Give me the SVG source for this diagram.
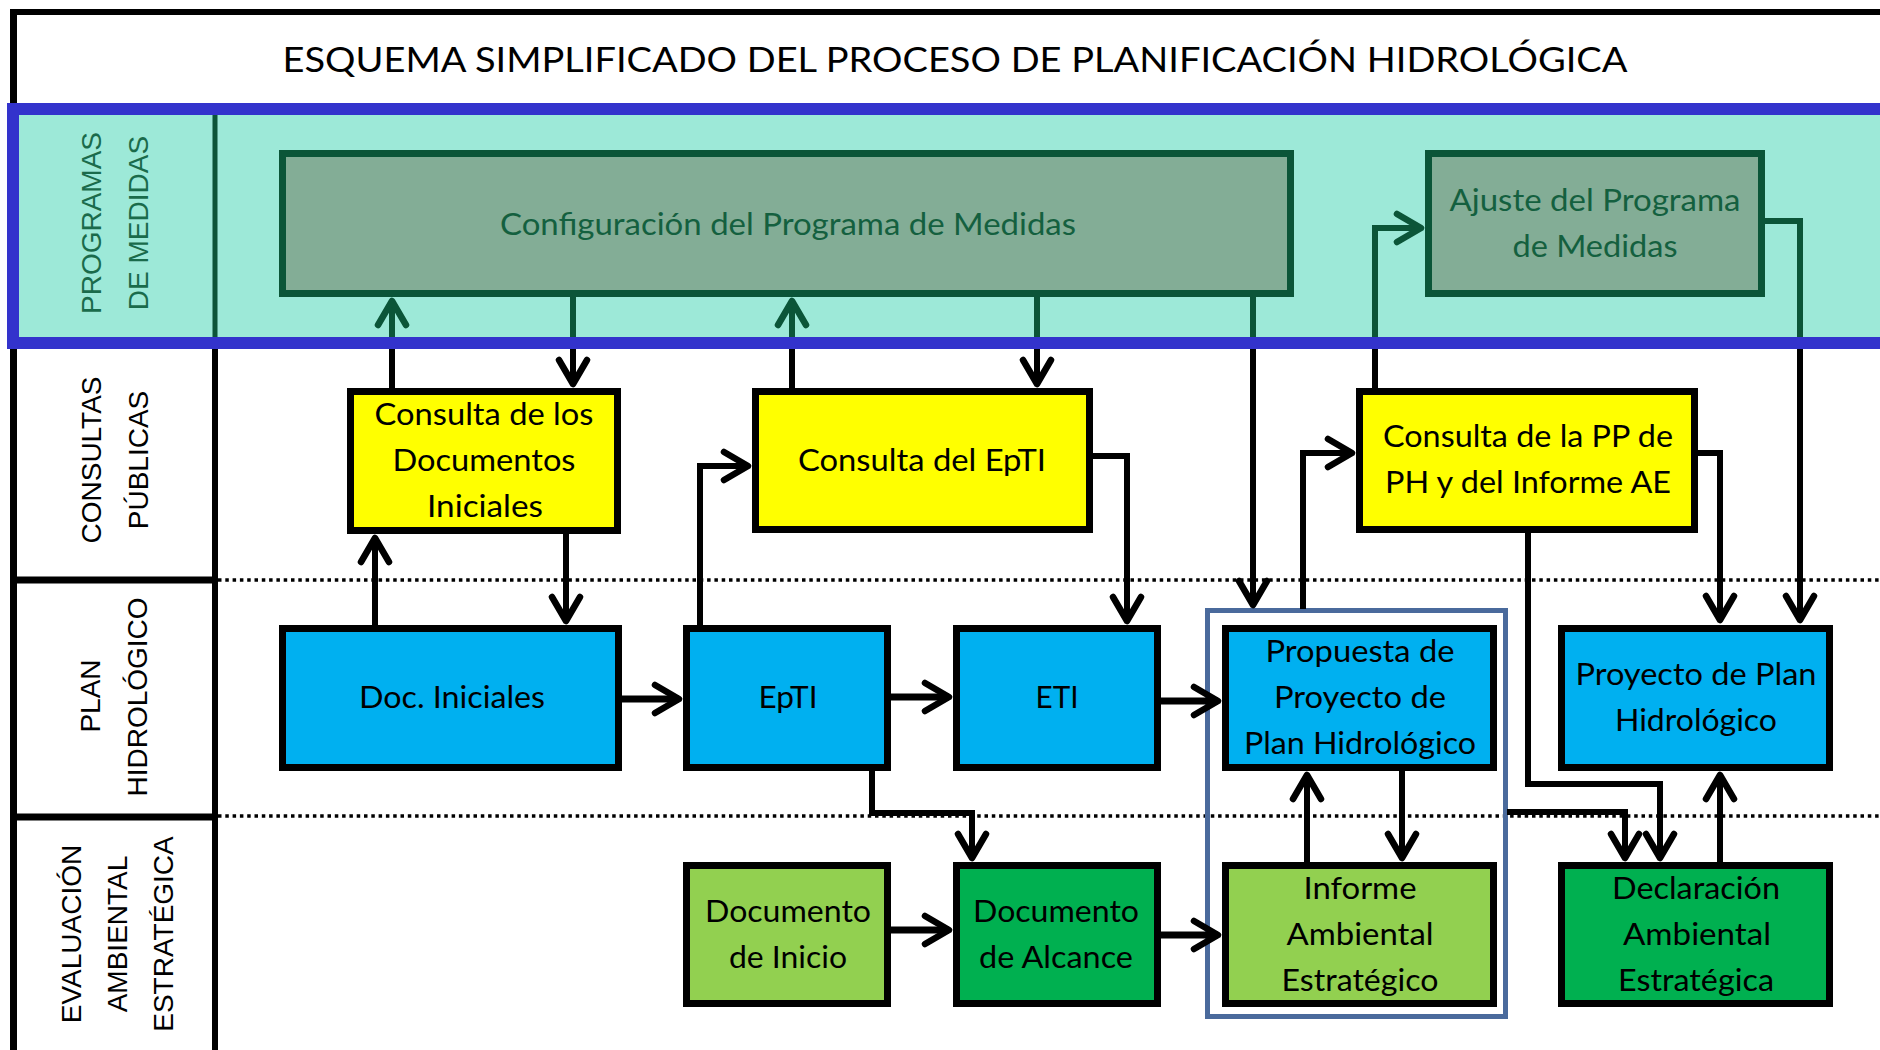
<svg xmlns="http://www.w3.org/2000/svg" width="1880" height="1050" viewBox="0 0 1880 1050">
<style>
.t{font-family:Lato,"Liberation Sans",sans-serif;font-size:30px;text-anchor:middle;fill:#000}
.tg{fill:#14603F}
.lane{font-family:"Liberation Sans",Arial,sans-serif;font-size:28px;text-anchor:middle;fill:#000}
.laneg{fill:#1A6B4B}
.box{stroke:#000;stroke-width:7}
.pm{fill:#83AD96;stroke:#0B5538;stroke-width:7}
.y{fill:#FFFF00}
.b{fill:#00B0F0}
.lg{fill:#92D050}
.dg{fill:#00B050}
.c{fill:none;stroke:#000;stroke-width:6;stroke-linejoin:miter}
.cg{fill:none;stroke:#0B5538;stroke-width:6;stroke-linejoin:miter}
.h{stroke-width:7}
.dot{fill:none;stroke:#000;stroke-width:3.5;stroke-dasharray:3.5 3.8}
</style>
<defs>
<marker id="ab" markerUnits="userSpaceOnUse" markerWidth="40" markerHeight="40" viewBox="-30 -20 40 40" refX="0" refY="0" orient="auto" overflow="visible">
<path d="M-24,-14 L0,0 L-24,14" fill="none" stroke="#000" stroke-width="6.5" stroke-linecap="round" stroke-linejoin="round"/>
</marker>
<marker id="ag" markerUnits="userSpaceOnUse" markerWidth="40" markerHeight="40" viewBox="-30 -20 40 40" refX="0" refY="0" orient="auto" overflow="visible">
<path d="M-24,-14 L0,0 L-24,14" fill="none" stroke="#0B5538" stroke-width="6.5" stroke-linecap="round" stroke-linejoin="round"/>
</marker>
</defs>
<rect x="0" y="0" width="1880" height="1050" fill="#fff"/>
<!-- frame -->
<g id="frame">
<path d="M10,12 H1880" stroke="#000" stroke-width="6" fill="none"/>
<path d="M13.5,9 V1050" stroke="#000" stroke-width="7" fill="none"/>
<rect x="13" y="109" width="1880" height="234" fill="#9DE9D8"/>
<path d="M215,115 V337" stroke="#0B5538" stroke-width="5" fill="none"/>
<path d="M215,349 V1050" stroke="#000" stroke-width="6" fill="none"/>
<path d="M13,580 H218 M13,817 H218" stroke="#000" stroke-width="7" fill="none"/>
<path class="dot" d="M218,580 H1880 M218,816 H1880"/>
</g>
<text class="t" x="955" y="72" style="font-size:35px" textLength="1345" lengthAdjust="spacingAndGlyphs">ESQUEMA SIMPLIFICADO DEL PROCESO DE PLANIFICACIÓN HIDROLÓGICA</text>
<!-- lane labels -->
<g id="lane-programas">
<text class="lane laneg" transform="translate(101,223) rotate(-90)">PROGRAMAS</text>
<text class="lane laneg" transform="translate(148,223) rotate(-90)">DE MEDIDAS</text>
</g>
<g id="lane-consultas">
<text class="lane" transform="translate(101,460) rotate(-90)">CONSULTAS</text>
<text class="lane" transform="translate(148,460) rotate(-90)">PÚBLICAS</text>
</g>
<g id="lane-plan">
<text class="lane" transform="translate(100,696) rotate(-90)">PLAN</text>
<text class="lane" transform="translate(147,697) rotate(-90)">HIDROLÓGICO</text>
</g>
<g id="lane-eae">
<text class="lane" transform="translate(81,934) rotate(-90)">EVALUACIÓN</text>
<text class="lane" transform="translate(127,934) rotate(-90)">AMBIENTAL</text>
<text class="lane" transform="translate(173,934) rotate(-90)">ESTRATÉGICA</text>
</g>
<g id="grupo-propuesta">
<rect x="1207.5" y="610.5" width="298" height="406" fill="none" stroke="#4A6A9C" stroke-width="5"/>
</g>
<!-- connectors -->
<g id="connectors">
<path class="c" d="M392,388 V343"/>
<path class="cg" d="M392,343 V301" marker-end="url(#ag)"/>
<path class="cg" d="M573,297 V343"/>
<path class="c" d="M573,343 V384" marker-end="url(#ab)"/>
<path class="c" d="M792,388 V343"/>
<path class="cg" d="M792,343 V301" marker-end="url(#ag)"/>
<path class="cg" d="M1037,297 V343"/>
<path class="c" d="M1037,343 V384" marker-end="url(#ab)"/>
<path class="cg" d="M1253,297 V343"/>
<path class="c" d="M1253,343 V605" marker-end="url(#ab)"/>
<path class="c" d="M1303,609 V453 H1352" marker-end="url(#ab)"/>
<path class="c" d="M1375,388 V343"/>
<path class="cg" d="M1375,343 V228 H1421" marker-end="url(#ag)"/>
<path class="cg" d="M1765,221 H1800 V343"/>
<path class="c" d="M1800,343 V620" marker-end="url(#ab)"/>
<path class="c" d="M1698,453 H1720 V620" marker-end="url(#ab)"/>
<path class="c" d="M1528,533 V784 H1660 V858" marker-end="url(#ab)"/>
<path class="c" d="M1507,812 H1625 V858" marker-end="url(#ab)"/>
<path class="c" d="M1720,862 V775" marker-end="url(#ab)"/>
<path class="c" d="M1307,862 V775" marker-end="url(#ab)"/>
<path class="c" d="M1402,771 V858" marker-end="url(#ab)"/>
<path class="c" d="M375,625 V538" marker-end="url(#ab)"/>
<path class="c" d="M566,534 V621" marker-end="url(#ab)"/>
<path class="c" d="M700,625 V466 H748" marker-end="url(#ab)"/>
<path class="c" d="M1093,456 H1127 V621" marker-end="url(#ab)"/>
<path class="c h" d="M622,699 H679" marker-end="url(#ab)"/>
<path class="c h" d="M891,697 H949" marker-end="url(#ab)"/>
<path class="c h" d="M1161,701 H1218" marker-end="url(#ab)"/>
<path class="c" d="M872,771 V813 H972 V858" marker-end="url(#ab)"/>
<path class="c h" d="M891,930 H949" marker-end="url(#ab)"/>
<path class="c h" d="M1161,935 H1218" marker-end="url(#ab)"/>
</g>
<!-- nodes -->
<g id="configuracion">
<rect class="pm" x="282.5" y="153.5" width="1008" height="140"/>
<text class="t tg" x="788" y="235" textLength="576" lengthAdjust="spacingAndGlyphs">Configuración del Programa de Medidas</text>
</g>
<g id="ajuste">
<rect class="pm" x="1428.5" y="153.5" width="333" height="140"/>
<text class="t tg" x="1595" y="211" textLength="291" lengthAdjust="spacingAndGlyphs">Ajuste del Programa</text>
<text class="t tg" x="1595" y="257" textLength="165" lengthAdjust="spacingAndGlyphs">de Medidas</text>
</g>
<g id="consulta-docs">
<rect class="box y" x="350.5" y="391.5" width="267" height="139"/>
<text class="t" x="484" y="425" textLength="219" lengthAdjust="spacingAndGlyphs">Consulta de los</text>
<text class="t" x="484" y="471" textLength="183" lengthAdjust="spacingAndGlyphs">Documentos</text>
<text class="t" x="485" y="517" textLength="116" lengthAdjust="spacingAndGlyphs">Iniciales</text>
</g>
<g id="consulta-epti">
<rect class="box y" x="755.5" y="391.5" width="334" height="138"/>
<text class="t" x="922" y="471" textLength="248" lengthAdjust="spacingAndGlyphs">Consulta del EpTI</text>
</g>
<g id="consulta-pp">
<rect class="box y" x="1359.5" y="391.5" width="335" height="138"/>
<text class="t" x="1528" y="447" textLength="290" lengthAdjust="spacingAndGlyphs">Consulta de la PP de</text>
<text class="t" x="1528" y="493" textLength="286" lengthAdjust="spacingAndGlyphs">PH y del Informe AE</text>
</g>
<g id="doc-iniciales">
<rect class="box b" x="282.5" y="628.5" width="336" height="139"/>
<text class="t" x="452" y="708" textLength="186" lengthAdjust="spacingAndGlyphs">Doc. Iniciales</text>
</g>
<g id="epti">
<rect class="box b" x="686.5" y="628.5" width="201" height="139"/>
<text class="t" x="788" y="708" textLength="59" lengthAdjust="spacingAndGlyphs">EpTI</text>
</g>
<g id="eti">
<rect class="box b" x="956.5" y="628.5" width="201" height="139"/>
<text class="t" x="1057" y="708" textLength="43" lengthAdjust="spacingAndGlyphs">ETI</text>
</g>
<g id="propuesta">
<rect class="box b" x="1225.5" y="628.5" width="268" height="139"/>
<text class="t" x="1360" y="662" textLength="189" lengthAdjust="spacingAndGlyphs">Propuesta de</text>
<text class="t" x="1360" y="708" textLength="172" lengthAdjust="spacingAndGlyphs">Proyecto de</text>
<text class="t" x="1360" y="754" textLength="232" lengthAdjust="spacingAndGlyphs">Plan Hidrológico</text>
</g>
<g id="proyecto-plan">
<rect class="box b" x="1561.5" y="628.5" width="268" height="139"/>
<text class="t" x="1696" y="685" textLength="241" lengthAdjust="spacingAndGlyphs">Proyecto de Plan</text>
<text class="t" x="1696" y="731" textLength="162" lengthAdjust="spacingAndGlyphs">Hidrológico</text>
</g>
<g id="doc-inicio">
<rect class="box lg" x="686.5" y="865.5" width="201" height="138"/>
<text class="t" x="788" y="922" textLength="166" lengthAdjust="spacingAndGlyphs">Documento</text>
<text class="t" x="788" y="968" textLength="118" lengthAdjust="spacingAndGlyphs">de Inicio</text>
</g>
<g id="doc-alcance">
<rect class="box dg" x="956.5" y="865.5" width="201" height="138"/>
<text class="t" x="1056" y="922" textLength="166" lengthAdjust="spacingAndGlyphs">Documento</text>
<text class="t" x="1056" y="968" textLength="154" lengthAdjust="spacingAndGlyphs">de Alcance</text>
</g>
<g id="informe-ae">
<rect class="box lg" x="1225.5" y="865.5" width="268" height="138"/>
<text class="t" x="1360" y="899" textLength="113" lengthAdjust="spacingAndGlyphs">Informe</text>
<text class="t" x="1360" y="945" textLength="147" lengthAdjust="spacingAndGlyphs">Ambiental</text>
<text class="t" x="1360" y="991" textLength="157" lengthAdjust="spacingAndGlyphs">Estratégico</text>
</g>
<g id="declaracion-ae">
<rect class="box dg" x="1561.5" y="865.5" width="268" height="138"/>
<text class="t" x="1696" y="899" textLength="168" lengthAdjust="spacingAndGlyphs">Declaración</text>
<text class="t" x="1697" y="945" textLength="148" lengthAdjust="spacingAndGlyphs">Ambiental</text>
<text class="t" x="1696" y="991" textLength="156" lengthAdjust="spacingAndGlyphs">Estratégica</text>
</g>
<!-- band border on top -->
<rect x="13" y="109" width="1880" height="234" fill="none" stroke="#3333CC" stroke-width="12"/>
</svg>
